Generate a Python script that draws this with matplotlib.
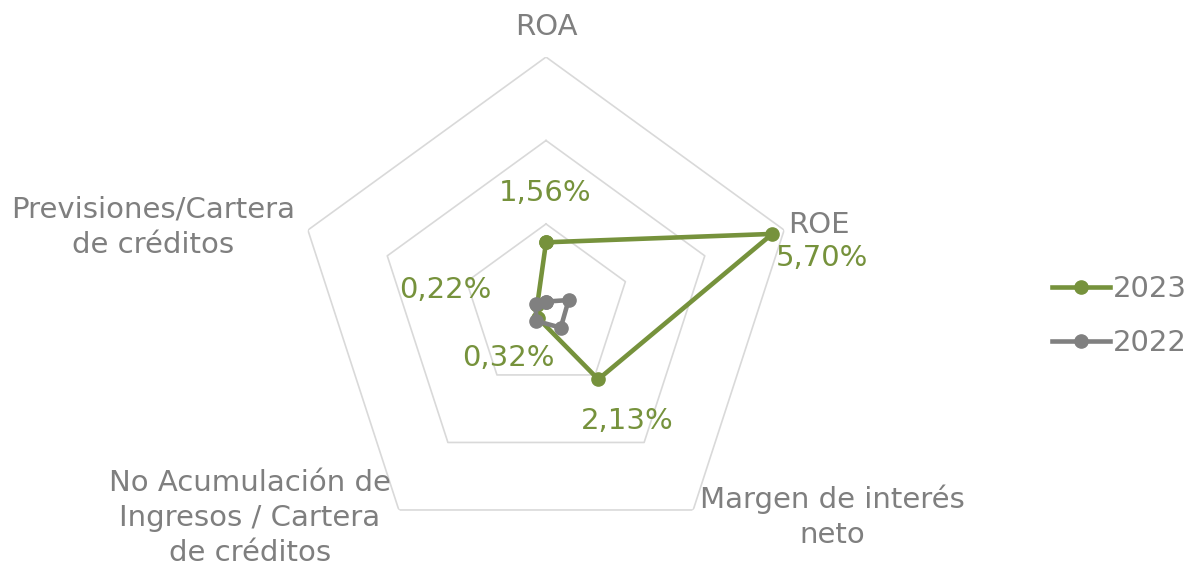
import numpy as np
import matplotlib
matplotlib.use("Agg")
import matplotlib.pyplot as plt

categories = ["ROA", "ROE", "Margen de interés\nneto",
              "No Acumulación de\nIngresos / Cartera\nde créditos",
              "Previsiones/Cartera\nde créditos"]
series_names = ["2023", "2022"]
values_2023 = [1.56, 5.70, 2.13, 0.32, 0.22]
values_2022 = [0.14, 0.57, 0.60, 0.40, 0.26]
labels_2023 = ["1,56%", "5,70%", "2,13%", "0,32%", "0,22%"]
grid_levels = [2, 4, 6]

GREEN = "#76923C"
GRAY = "#808080"
GRID = "#D9D9D9"
TEXT = "#7F7F7F"
FS = 21

fig = plt.figure(figsize=(11.94, 5.65), dpi=100)
ax = fig.add_axes([0.2476, 0.0127, 0.4194, 0.8864], projection="polar")
ax.set_theta_offset(np.pi / 2)
ax.set_theta_direction(-1)
ax.set_ylim(0, 6)
ax.grid(False)
ax.spines["polar"].set_visible(False)
ax.set_xticks([])
ax.set_yticks([])
ax.patch.set_alpha(0)

n = len(categories)
angles = np.arange(n) * 2 * np.pi / n
closed = np.append(angles, angles[0])

for lvl in grid_levels:
    ax.plot(closed, [lvl] * (n + 1), color=GRID, lw=1.2, zorder=1)

for vals, col, name in [(values_2023, GREEN, "2023"), (values_2022, GRAY, "2022")]:
    ax.plot(closed, list(vals) + [vals[0]], color=col, lw=3.3, marker="o",
            markersize=9.5, label=name, zorder=3)

label_offsets = [(-1, 49), (50, -24), (29, -42), (-30, -40), (-92, 15)]
for a, v, t, off in zip(angles, values_2023, labels_2023, label_offsets):
    ax.annotate(t, xy=(a, v), xytext=off, textcoords="offset pixels",
                ha="center", va="center", color=GREEN, fontsize=FS, zorder=4)

cat_pos = [(546, 27), (819, 225), (832, 517), (250, 518), (153, 227)]
W, H = 1194, 565
for c, (px, py) in zip(categories, cat_pos):
    fig.text(px / W, 1 - py / H, c, ha="center", va="center", color=TEXT,
             fontsize=FS, linespacing=1.33)

leg = fig.legend(loc="center left", bbox_to_anchor=(1052 / W, 1 - 316 / H),
                 frameon=False, fontsize=FS, handlelength=2.0, borderpad=0,
                 borderaxespad=0, handletextpad=0.1, labelspacing=0.9,
                 labelcolor=TEXT)

fig.savefig("out.png", dpi=100)
